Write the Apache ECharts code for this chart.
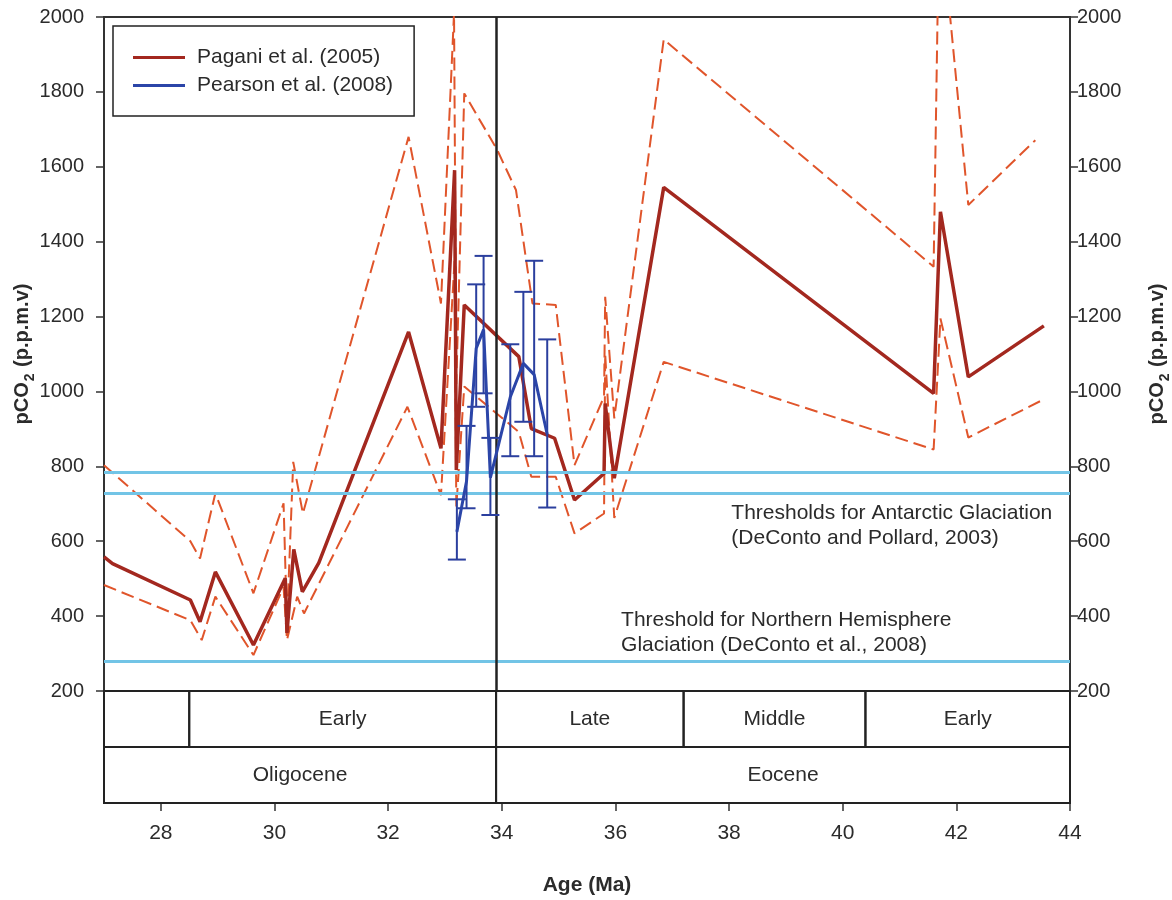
<!DOCTYPE html>
<html><head><meta charset="utf-8">
<script src="https://cdn.jsdelivr.net/npm/echarts@6/dist/echarts.min.js"></script>
<style>html,body{margin:0;padding:0;background:#fff}#c{width:1172px;height:900px}</style>
</head><body><div id="c"></div>
<script>
// ---- Data ----
const paganiAge = [27.0, 27.15, 28.52, 28.69, 28.96, 29.63, 30.19, 30.22, 30.34, 30.49, 30.78, 32.36, 32.93, 33.17, 33.2, 33.34, 34.3, 34.52, 34.93, 35.28, 35.8, 35.82, 35.98, 36.85, 41.6, 41.72, 42.21, 43.54];
const paganiCO2 = [558, 540, 443, 385, 518, 323, 501, 355, 578, 465, 542, 1159, 848, 1591, 790, 1231, 1093, 901, 875, 710, 781, 968, 768, 1545, 995, 1480, 1039, 1175];

const upperAge = [27.0, 28.52, 28.69, 28.96, 29.63, 30.16, 30.22, 30.33, 30.5, 32.36, 32.93, 33.16, 33.2, 33.34, 33.92, 34.25, 34.54, 34.95, 35.28, 35.8, 35.82, 35.98, 36.85, 41.6, 41.7, 42.21, 43.39];
const upperCO2 = [803, 600, 554, 728, 461, 701, 380, 812, 674, 1680, 1235, 2010, 1020, 1796, 1645, 1538, 1235, 1231, 803, 986, 1253, 928, 1940, 1333, 2300, 1498, 1671];

const lowerAge = [27.0, 28.52, 28.72, 28.96, 29.63, 30.16, 30.22, 30.4, 30.52, 32.34, 32.93, 33.17, 33.2, 33.34, 34.3, 34.52, 34.95, 35.28, 35.8, 35.82, 35.98, 36.85, 41.6, 41.72, 42.21, 43.54];
const lowerCO2 = [483, 389, 336, 452, 296, 478, 336, 452, 407, 959, 723, 1350, 692, 1013, 892, 772, 772, 621, 674, 1100, 662, 1079, 845, 1195, 877, 979];

const pearsonAge = [33.21, 33.38, 33.55, 33.68, 33.8, 34.15, 34.38, 34.57, 34.8];
const pearsonCO2 = [625, 760, 1115, 1165, 770, 985, 1075, 1045, 885];
const pearsonLow = [551, 688, 959, 995, 670, 827, 919, 827, 690];
const pearsonHigh = [712, 908, 1286, 1362, 876, 1126, 1266, 1349, 1139];

const thresholdCO2 = [784, 728, 280];
const boundaryAge = [33.9];

const noteAge = [38.04, 36.1];
const noteCO2 = [642, 356];
const noteText = ['Thresholds for Antarctic Glaciation\n(DeConto and Pollard, 2003)', 'Threshold for Northern Hemisphere\nGlaciation (DeConto et al., 2008)'];

const stageNames = ['', 'Early', 'Late', 'Middle', 'Early'];
const stageStart = [27, 28.5, 33.9, 37.2, 40.4];
const stageEnd = [28.5, 33.9, 37.2, 40.4, 44];
const epochNames = ['Oligocene', 'Eocene'];
const epochStart = [27, 33.9];
const epochEnd = [33.9, 44];

const xTicks = [28, 30, 32, 34, 36, 38, 40, 42, 44];

// ---- Chart ----
const FONT = "'Liberation Sans', Arial, Helvetica, sans-serif";
const TXT = '#2b2b2b';
const chart = echarts.init(document.getElementById('c'));

const zip = (a, b) => a.map((v, i) => [v, b[i]]);

function tableRender(names) {
  return function (params, api) {
    const s = api.value(0), e = api.value(1), r = api.value(2);
    const p1 = api.coord([s, r + 1]);
    const p2 = api.coord([e, r]);
    return {
      type: 'group',
      children: [
        { type: 'rect', shape: { x: p1[0], y: p1[1], width: p2[0] - p1[0], height: p2[1] - p1[1] },
          style: { fill: 'none', stroke: '#222', lineWidth: 2 } },
        { type: 'text', style: { text: names[params.dataIndex], x: (p1[0] + p2[0]) / 2, y: (p1[1] + p2[1]) / 2,
          align: 'center', verticalAlign: 'middle', font: '21px ' + FONT, fill: TXT } }
      ]
    };
  };
}

const yName = '{a|pCO}{b|2}{a| (p.p.m.v)}';
const yNameStyle = {
  rich: {
    a: { fontSize: 20, fontWeight: 'bold', color: TXT, fontFamily: FONT, lineHeight: 30, verticalAlign: 'middle' },
    b: { fontSize: 14, fontWeight: 'bold', color: TXT, fontFamily: FONT, lineHeight: 30, verticalAlign: 'bottom', padding: [0, 1, 0, 1] }
  }
};
const plainNum = v => String(v);

const option = {
  animation: false,
  textStyle: { fontFamily: FONT },
  legend: {
    left: 113, top: 26, orient: 'vertical',
    borderColor: '#222', borderWidth: 1.5,
    padding: [21, 21, 20, 20],
    itemWidth: 52, itemHeight: 3, itemGap: 7, icon: 'rect',
    textStyle: { fontSize: 21, color: TXT, padding: [0, 0, 0, 7] },
    data: ['Pagani et al. (2005)', 'Pearson et al. (2008)']
  },
  grid: [
    { left: 104, right: 102, top: 17, height: 674, show: true, borderColor: '#333', borderWidth: 2,
      backgroundColor: 'transparent', containLabel: false, outerBoundsMode: 'none' },
    { left: 104, right: 102, top: 691, height: 112, containLabel: false, outerBoundsMode: 'none' }
  ],
  xAxis: [
    { gridIndex: 0, type: 'value', min: 27, max: 44, axisLine: { show: false }, axisTick: { show: false },
      axisLabel: { show: false }, splitLine: { show: false } },
    { gridIndex: 1, type: 'value', min: 27, max: 44,
      axisLine: { show: true, lineStyle: { color: '#333', width: 2 } },
      axisTick: { show: true, customValues: xTicks, length: 8, lineStyle: { color: '#333', width: 1.5 } },
      axisLabel: { customValues: xTicks, fontSize: 21, color: TXT, margin: 20, formatter: plainNum },
      splitLine: { show: false },
      name: 'Age (Ma)', nameLocation: 'middle', nameGap: 72, nameMoveOverlap: false,
      nameTextStyle: { fontSize: 21, fontWeight: 'bold', color: TXT } }
  ],
  yAxis: [
    { gridIndex: 0, type: 'value', min: 200, max: 2000, interval: 200, position: 'left',
      axisLine: { show: true, lineStyle: { color: '#333', width: 2 } },
      axisTick: { show: true, length: 8, lineStyle: { color: '#333', width: 1.5 } },
      axisLabel: { fontSize: 20, color: TXT, margin: 20, formatter: plainNum }, splitLine: { show: false },
      name: yName, nameLocation: 'middle', nameRotate: 90, nameGap: 67, nameMoveOverlap: false, nameTextStyle: yNameStyle },
    { gridIndex: 0, type: 'value', min: 200, max: 2000, interval: 200, position: 'right',
      axisLine: { show: true, lineStyle: { color: '#333', width: 2 } },
      axisTick: { show: true, length: 8, lineStyle: { color: '#333', width: 1.5 } },
      axisLabel: { fontSize: 20, color: TXT, margin: 7, formatter: plainNum }, splitLine: { show: false },
      name: yName, nameLocation: 'middle', nameRotate: 90, nameGap: 72, nameMoveOverlap: false, nameTextStyle: yNameStyle },
    { gridIndex: 1, type: 'value', min: 0, max: 2, show: false }
  ],
  series: [
    { name: 'upper', type: 'line', xAxisIndex: 0, yAxisIndex: 0, data: zip(upperAge, upperCO2),
      showSymbol: false, symbol: 'none', color: '#e0552b', z: 2,
      lineStyle: { color: '#e0552b', width: 2, type: [13, 6] } },
    { name: 'lower', type: 'line', xAxisIndex: 0, yAxisIndex: 0, data: zip(lowerAge, lowerCO2),
      showSymbol: false, symbol: 'none', color: '#e0552b', z: 2,
      lineStyle: { color: '#e0552b', width: 2, type: [13, 6] } },
    { name: 'Pagani et al. (2005)', type: 'line', xAxisIndex: 0, yAxisIndex: 0, data: zip(paganiAge, paganiCO2),
      showSymbol: false, symbol: 'none', color: '#a3281f', z: 3,
      lineStyle: { color: '#a3281f', width: 3.5 } },
    { name: 'thresholds', type: 'line', xAxisIndex: 0, yAxisIndex: 0, data: [], z: 4,
      markLine: { silent: true, symbol: 'none', label: { show: false },
        lineStyle: { color: '#72c4e6', width: 3, type: 'solid' },
        data: thresholdCO2.map(v => ({ yAxis: v })) } },
    { name: 'Pearson et al. (2008)', type: 'line', xAxisIndex: 0, yAxisIndex: 0, data: zip(pearsonAge, pearsonCO2),
      showSymbol: false, symbol: 'none', color: '#2b45a8', z: 6,
      lineStyle: { color: '#2b45a8', width: 3 } },
    { name: 'errors', type: 'custom', xAxisIndex: 0, yAxisIndex: 0, z: 6,
      data: pearsonAge.map((a, i) => [a, pearsonLow[i], pearsonHigh[i]]),
      encode: { x: 0, y: [1, 2] },
      renderItem: function (params, api) {
        const lo = api.coord([api.value(0), api.value(1)]);
        const hi = api.coord([api.value(0), api.value(2)]);
        const w = 9, st = { stroke: '#2b3f9e', lineWidth: 2 };
        return { type: 'group', children: [
          { type: 'line', shape: { x1: lo[0], y1: lo[1], x2: hi[0], y2: hi[1] }, style: st },
          { type: 'line', shape: { x1: lo[0] - w, y1: lo[1], x2: lo[0] + w, y2: lo[1] }, style: st },
          { type: 'line', shape: { x1: hi[0] - w, y1: hi[1], x2: hi[0] + w, y2: hi[1] }, style: st }
        ] };
      } },
    { name: 'boundary', type: 'line', xAxisIndex: 0, yAxisIndex: 0, data: [], z: 8,
      markLine: { silent: true, symbol: 'none', label: { show: false },
        lineStyle: { color: '#222', width: 2.5, type: 'solid' },
        data: boundaryAge.map(v => ({ xAxis: v })) } },
    { name: 'notes', type: 'scatter', xAxisIndex: 0, yAxisIndex: 0, symbolSize: 0, z: 9,
      data: zip(noteAge, noteCO2),
      label: { show: true, position: 'inside', align: 'left', verticalAlign: 'middle',
        fontSize: 21, lineHeight: 25, color: TXT, opacity: 1,
        formatter: p => noteText[p.dataIndex] },
      emphasis: { disabled: true } },
    { name: 'stages', type: 'custom', xAxisIndex: 1, yAxisIndex: 2, clip: false, z: 3,
      data: stageStart.map((s, i) => [s, stageEnd[i], 1]), renderItem: tableRender(stageNames) },
    { name: 'epochs', type: 'custom', xAxisIndex: 1, yAxisIndex: 2, clip: false, z: 3,
      data: epochStart.map((s, i) => [s, epochEnd[i], 0]), renderItem: tableRender(epochNames) }
  ]
};
chart.setOption(option);
</script></body></html>
